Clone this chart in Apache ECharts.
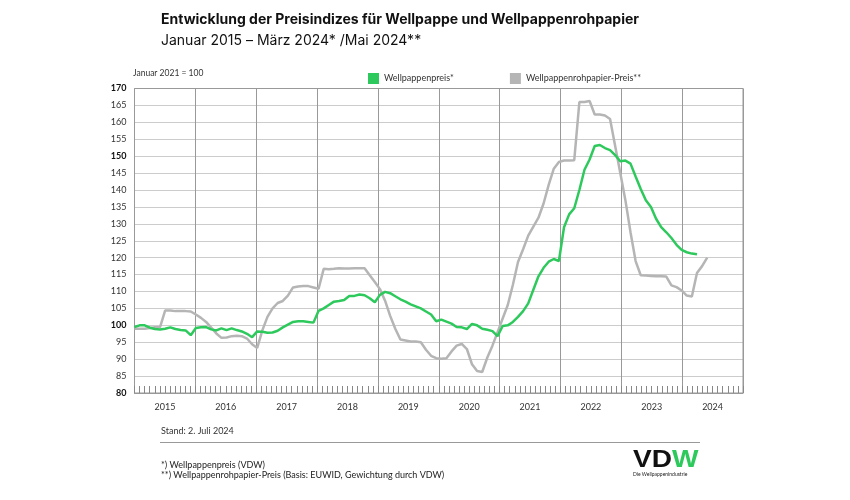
<!DOCTYPE html>
<html><head><meta charset="utf-8">
<script src="https://cdn.jsdelivr.net/npm/echarts@6/dist/echarts.min.js"></script>
<style>html,body{margin:0;padding:0;background:#fff}#c{width:850px;height:500px}</style>
</head><body><div id="c"></div>
<script>
const years = ['2015','2016','2017','2018','2019','2020','2021','2022','2023','2024'];
const seriesNames = ['Wellpappenpreis*', 'Wellpappenrohpapier-Preis**'];
// Monthly index values, Jan 2015 .. Mar 2024
const wellpappe = [
  99.5,100,100,99.3,98.9,98.8,99,99.4,98.9,98.6,98.5,97.1,
  99.2,99.4,99.5,98.8,98.5,99.1,98.6,99.1,98.6,98.2,97.5,96.5,
  98.2,98.1,97.8,97.9,98.4,99.4,100.2,101,101.2,101.2,101,100.8,
  104.3,105,106,107,107.2,107.5,108.7,108.7,109.1,108.9,108,106.8,
  109,109.9,109.5,108.6,107.7,107,106.2,105.6,105,104.1,103.2,101.2,
  101.7,101.1,100.5,99.5,99.4,98.9,100.4,100,99,98.7,98.3,96.8,
  99.8,100,101,102.5,104.2,106.5,110.5,114.5,117,118.8,119.6,119,
  129,132.8,134.6,140,146,149,153,153.3,152.4,151.8,150.3,148.5,
  148.7,147.8,144,140.3,137,135,131.5,129,127.5,125.8,123.8,122.3,
  121.6,121.2,121
];
// Monthly index values, Jan 2015 .. May 2024
const rohpapier = [
  99,99,99,99.2,99.4,99.5,104.4,104.4,104.2,104.2,104.2,104.1,
  103.2,102.2,101,99.3,97.6,96.3,96.4,96.8,96.9,96.8,96.1,94.4,
  93.3,98.5,102.5,105,106.6,107.2,108.8,111.2,111.5,111.6,111.6,111.2,
  110.8,116.7,116.6,116.7,116.9,116.8,116.8,116.9,116.9,116.9,114.8,112.8,
  110.7,107.3,102.8,99,95.8,95.5,95.2,95.2,95,92.8,91,90.3,
  90.1,90.3,92.3,94,94.5,93,88.5,86.5,86.2,90.5,94,98,
  102,106,112,118.7,122.5,126.5,129.2,131.8,136,141.5,146.3,148.3,
  148.7,148.7,148.8,166,166,166.3,162.3,162.3,162,161,153,145,
  137,127.5,119,114.8,114.7,114.6,114.5,114.5,114.4,111.8,111.3,110.3,
  108.8,108.5,115.5,117.5,120
];
const boldTicks = [80, 100, 150, 170];

const chart = echarts.init(document.getElementById('c'), null, {renderer: 'canvas'});
const FONT = 'Lato, "Open Sans", sans-serif';
chart.setOption({
  animation: false,
  backgroundColor: '#fff',
  textStyle: {fontFamily: FONT},
  grid: {left: 134.5, right: 107, top: 88.5, bottom: 107, show: true, borderColor: '#999', borderWidth: 1, backgroundColor: 'transparent'},
  legend: {
    data: seriesNames, left: 363, top: 68, icon: 'rect', itemWidth: 11, itemHeight: 11, itemGap: 56,
    textStyle: {fontSize: 9, color: '#333', fontFamily: FONT}
  },
  xAxis: [
    {type: 'value', min: 0, max: 120, interval: 12, position: 'bottom',
     axisLine: {show: true, lineStyle: {color: '#999'}},
     axisTick: {show: true, inside: true, length: 7, lineStyle: {color: '#888'}},
     minorTick: {show: true, splitNumber: 12, length: 7, lineStyle: {color: '#888'}},
     splitLine: {show: true, lineStyle: {color: '#999', width: 1}},
     axisLabel: {show: false}},
    {type: 'category', data: years, position: 'bottom', boundaryGap: true,
     axisLine: {show: false}, axisTick: {show: false}, splitLine: {show: false},
     axisLabel: {color: '#333', fontSize: 9, margin: 10, fontFamily: FONT}},
    {type: 'value', min: 0, max: 119, position: 'bottom', show: false}
  ],
  yAxis: {
    type: 'value', min: 80, max: 170, interval: 5,
    axisLine: {show: false}, axisTick: {show: false},
    splitLine: {lineStyle: {type: 'dotted', color: '#999', width: 1}},
    axisLabel: {
      margin: 8, fontSize: 9, color: '#333',
      formatter: v => boldTicks.indexOf(v) >= 0 ? '{b|' + v + '}' : '' + v,
      rich: {b: {fontWeight: 'bold', fontSize: 9, color: '#111', fontFamily: FONT}}
    }
  },
  series: [
    {name: seriesNames[1], type: 'line', xAxisIndex: 2, symbol: 'none', z: 2,
     lineStyle: {color: '#b5b5b5', width: 2.5}, itemStyle: {color: '#b5b5b5'},
     data: rohpapier.map((v, i) => [i, v])},
    {name: seriesNames[0], type: 'line', xAxisIndex: 2, symbol: 'none', z: 3,
     lineStyle: {color: '#2ec95c', width: 2.5}, itemStyle: {color: '#2ec95c'},
     data: wellpappe.map((v, i) => [i, v])}
  ],
  graphic: [
    {type: 'text', left: 161, top: 13, style: {text: 'Entwicklung der Preisindizes für Wellpappe und Wellpappenrohpapier', font: 'bold 14px Inter, sans-serif', fill: '#111'}},
    {type: 'text', left: 161, top: 34, style: {text: 'Januar 2015 – März 2024* /Mai 2024**', font: '14px Inter, sans-serif', fill: '#111'}},
    {type: 'text', left: 133, top: 69, style: {text: 'Januar 2021 = 100', font: '8.5px ' + FONT, fill: '#333'}},
    {type: 'text', left: 161, top: 427, style: {text: 'Stand: 2. Juli 2024', font: '9px ' + FONT, fill: '#333'}},
    {type: 'line', shape: {x1: 160, y1: 442.5, x2: 700, y2: 442.5}, style: {stroke: '#999', lineWidth: 1}},
    {type: 'text', left: 161, top: 461, style: {text: '*) Wellpappenpreis (VDW)', font: '9px ' + FONT, fill: '#222'}},
    {type: 'text', left: 161, top: 471, style: {text: '**) Wellpappenrohpapier-Preis (Basis: EUWID, Gewichtung durch VDW)', font: '9px ' + FONT, fill: '#222'}},
    {type: 'text', x: 633, y: 449, scaleX: 1.22, style: {text: '{a|VD}{g|W}', rich: {
      a: {font: '900 23px "Liberation Sans", sans-serif', fill: '#111'},
      g: {font: '900 23px "Liberation Sans", sans-serif', fill: '#2ec95c'}}}},
    {type: 'text', x: 633, y: 472, style: {text: 'Die Wellpappenindustrie', font: '5px ' + FONT, fill: '#222'}}
  ]
});
</script></body></html>
